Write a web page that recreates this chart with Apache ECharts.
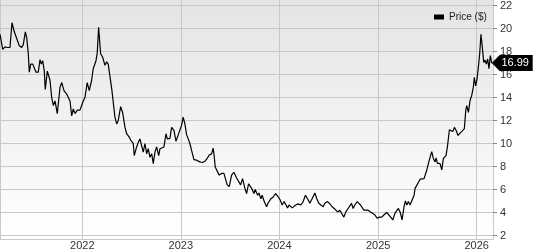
<!DOCTYPE html>
<html><head><meta charset="utf-8">
<script src="https://cdn.jsdelivr.net/npm/echarts@6/dist/echarts.min.js"></script>
<style>html,body{margin:0;padding:0;background:#fff}#c{width:533px;height:251px}</style>
</head><body><div id="c"></div>
<script>
// time in fractional years
const years = [2021.165,2021.192,2021.216,2021.239,2021.259,2021.266,2021.287,2021.307,2021.327,2021.340,2021.361,2021.385,2021.401,2021.422,2021.436,2021.452,2021.462,2021.476,2021.497,2021.510,2021.530,2021.553,2021.571,2021.584,2021.598,2021.614,2021.624,2021.645,2021.672,2021.689,2021.706,2021.723,2021.746,2021.774,2021.791,2021.814,2021.841,2021.858,2021.875,2021.892,2021.908,2021.926,2021.949,2021.976,2021.992,2022.010,2022.027,2022.050,2022.071,2022.095,2022.111,2022.139,2022.152,2022.166,2022.186,2022.207,2022.230,2022.247,2022.263,2022.281,2022.301,2022.314,2022.331,2022.349,2022.365,2022.389,2022.409,2022.433,2022.450,2022.476,2022.491,2022.504,2022.517,2022.527,2022.551,2022.568,2022.585,2022.605,2022.618,2022.636,2022.653,2022.669,2022.686,2022.704,2022.720,2022.737,2022.754,2022.775,2022.788,2022.805,2022.828,2022.849,2022.862,2022.889,2022.906,2022.930,2022.950,2022.973,2022.991,2023.008,2023.024,2023.041,2023.059,2023.075,2023.092,2023.109,2023.133,2023.160,2023.193,2023.221,2023.244,2023.267,2023.288,2023.312,2023.328,2023.338,2023.349,2023.369,2023.389,2023.413,2023.437,2023.457,2023.470,2023.491,2023.515,2023.538,2023.566,2023.582,2023.606,2023.626,2023.650,2023.667,2023.687,2023.701,2023.718,2023.741,2023.754,2023.779,2023.792,2023.812,2023.825,2023.846,2023.870,2023.886,2023.914,2023.937,2023.961,2023.988,2024.008,2024.028,2024.048,2024.066,2024.083,2024.099,2024.116,2024.130,2024.150,2024.167,2024.190,2024.218,2024.241,2024.265,2024.286,2024.309,2024.332,2024.360,2024.380,2024.400,2024.421,2024.444,2024.461,2024.489,2024.512,2024.535,2024.563,2024.590,2024.613,2024.631,2024.654,2024.674,2024.697,2024.715,2024.732,2024.748,2024.765,2024.789,2024.803,2024.823,2024.843,2024.857,2024.877,2024.900,2024.925,2024.945,2024.968,2024.992,2025.012,2025.036,2025.060,2025.087,2025.107,2025.127,2025.148,2025.171,2025.188,2025.205,2025.222,2025.242,2025.262,2025.276,2025.290,2025.306,2025.323,2025.340,2025.357,2025.364,2025.374,2025.391,2025.407,2025.425,2025.442,2025.465,2025.475,2025.493,2025.509,2025.526,2025.543,2025.559,2025.577,2025.587,2025.600,2025.614,2025.627,2025.645,2025.661,2025.688,2025.702,2025.722,2025.739,2025.756,2025.773,2025.790,2025.810,2025.830,2025.854,2025.874,2025.888,2025.898,2025.915,2025.932,2025.949,2025.965,2025.975,2025.989,2026.003,2026.016,2026.030,2026.043,2026.057,2026.071,2026.084,2026.097,2026.111,2026.124,2026.138,2026.152];
const prices = [19.5,18.2,18.4,18.35,18.5,18.35,20.5,19.8,19.3,19.4,18.5,18.35,18.6,19.7,19.2,17.8,16.2,16.9,16.9,16.8,16.2,16.2,17.3,16.9,17.2,16.3,14.7,16.3,15.5,14.0,13.3,13.7,12.6,14.9,15.3,14.6,14.3,14.45,13.7,12.4,13.0,12.6,12.9,12.9,12.8,13.7,14.0,15.3,14.6,15.5,16.5,17.2,17.9,20.1,17.8,17.5,16.8,17.1,16.9,16.8,14.6,13.6,12.3,11.7,12.0,13.2,12.7,11.4,10.85,10.55,10.3,10.4,10.0,8.95,9.7,10.1,10.4,10.4,9.25,10.0,9.1,9.55,8.8,9.1,8.25,9.25,9.7,8.95,9.55,9.7,9.7,10.85,10.4,10.45,11.4,11.15,10.2,10.75,10.85,11.6,12.3,11.7,10.75,10.4,10.0,9.4,8.6,8.55,8.4,8.35,8.45,8.7,9.0,9.1,9.6,8.95,7.95,7.8,7.25,7.4,7.4,6.8,6.4,6.25,7.25,7.5,7.0,6.95,6.4,6.95,6.1,5.65,6.5,6.65,6.1,5.65,6.0,5.5,5.7,5.2,5.5,4.95,4.5,4.85,5.2,5.35,5.65,5.35,5.1,4.65,4.95,4.8,4.4,4.65,4.5,4.4,4.4,4.65,4.75,4.65,4.95,5.5,5.2,4.8,5.2,5.7,5.2,4.8,4.65,4.5,4.8,4.95,4.75,4.5,4.3,4.05,4.2,4.2,3.6,4.05,4.35,4.5,4.8,4.35,4.65,4.95,4.95,4.65,4.65,4.2,4.35,4.2,4.05,4.15,3.8,3.5,3.6,3.6,3.8,4.0,3.95,3.6,3.35,3.95,4.05,4.35,4.05,3.35,4.5,5.0,4.65,4.95,4.65,5.0,5.1,5.5,6.1,6.2,6.6,6.9,6.95,6.95,7.1,7.7,8.25,8.8,9.3,8.7,8.4,8.75,8.3,8.4,8.25,7.7,8.7,8.95,9.7,11.2,11.3,11.05,11.4,11.15,10.7,10.9,11.1,11.3,12.85,13.3,12.7,13.75,14.2,14.9,15.75,15.0,15.6,16.6,17.8,19.5,18.35,17.05,17.25,16.9,17.35,16.5,17.65,16.99];
const xRange = [2021.165, 2026.165];
const yRange = [2, 22];
const yStep = 2;
const seriesName = 'Price ($)';

function toTs(t){ const y = Math.floor(t); return Date.UTC(y,0,1) + (t - y) * 365.25 * 86400000; }
const data = years.map((t,i) => [toTs(t), prices[i]]);
const last = data[data.length-1];
const FONT = 'Liberation Sans, Arial, sans-serif';

const chart = echarts.init(document.getElementById('c'), null, {renderer:'canvas'});
chart.setOption({
  useUTC: true,
  animation: false,
  backgroundColor: '#fff',
  legend: {
    data: [{name: seriesName, icon: 'rect'}],
    left: 429, top: 7,
    itemWidth: 10, itemHeight: 5, itemGap: 5,
    textStyle: {fontFamily: FONT, fontSize: 10, color: '#222'},
    selectedMode: false
  },
  grid: [
    {left: 0, right: 40, top: 4.5, bottom: 15.5, containLabel: false},
    {left: 0, right: 40, top: 0, bottom: 10, containLabel: false, show: true, borderWidth: 0,
     backgroundColor: new echarts.graphic.LinearGradient(0,0,0,1,[{offset:0,color:'#e4e4e4'},{offset:1,color:'#ffffff'}]), z: 0}
  ],
  xAxis: [
    {type: 'time', gridIndex: 0, min: toTs(xRange[0]), max: toTs(xRange[1]), show: false},
    {type: 'time', gridIndex: 1, min: toTs(xRange[0]), max: toTs(xRange[1]),
     splitNumber: 5, minInterval: 365*86400000,
     axisLine: {show: true, lineStyle: {color: '#c8c8c8', width: 1}},
     axisTick: {show: false},
     axisLabel: {fontFamily: FONT, fontSize: 11, color: '#333', margin: 1,
       formatter: v => { const d = new Date(v); return d.getUTCMonth()===0 ? String(d.getUTCFullYear()) : ''; }},
     splitLine: {show: true, lineStyle: {color: '#c8c8c8', width: 1}}}
  ],
  yAxis: [
    {type: 'value', gridIndex: 0, position: 'right', min: yRange[0], max: yRange[1], interval: yStep,
     axisLine: {show: false},
     axisTick: {show: true, length: 4, lineStyle: {color: '#888'}},
     axisLabel: {fontFamily: FONT, fontSize: 11, color: '#333', margin: 7},
     splitLine: {show: true, lineStyle: {color: '#c8c8c8', width: 1}}},
    {type: 'value', gridIndex: 1, position: 'right', min: 0, max: 1,
     axisLine: {show: true, lineStyle: {color: '#c8c8c8'}},
     axisTick: {show: false}, axisLabel: {show: false}, splitLine: {show: false}}
  ],
  series: [
    {type: 'line', name: seriesName, xAxisIndex: 0, yAxisIndex: 0, data: data,
     showSymbol: false, symbol: 'none', color: '#000',
     lineStyle: {color: '#000', width: 1.2}, z: 5, clip: false,
     markPoint: {
       symbol: 'path://M0,8 L8,0 L41,0 L41,16 L8,16 Z',
       symbolSize: [41, 16], symbolOffset: [20.5, 0], symbolKeepAspect: false,
       itemStyle: {color: '#000'},
       label: {show: true, position: 'inside', color: '#fff', fontFamily: FONT, fontSize: 11, offset: [3, 0],
               formatter: p => p.value.toFixed(2)},
       data: [{coord: last, value: last[1]}]
     }},
    {type: 'line', xAxisIndex: 1, yAxisIndex: 1, data: [], silent: true}
  ]
});
</script></body></html>
